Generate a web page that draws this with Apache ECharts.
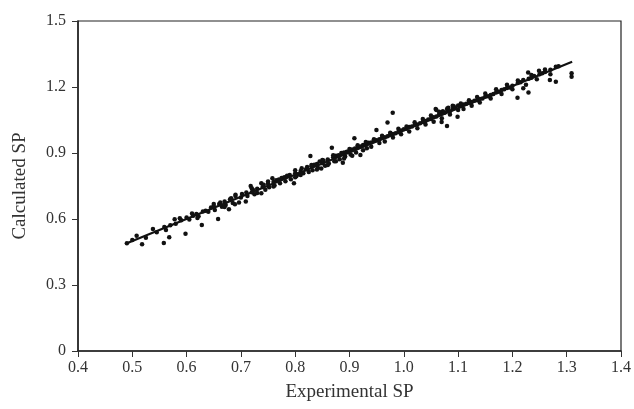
<!DOCTYPE html>
<html><head><meta charset="utf-8">
<script src="https://cdn.jsdelivr.net/npm/echarts@6/dist/echarts.min.js"></script>
<style>html,body{margin:0;padding:0;background:#fff}#c{width:634px;height:409px}</style>
</head><body><div id="c"></div>
<script>
var xTicks = [0.4,0.5,0.6,0.7,0.8,0.9,1.0,1.1,1.2,1.3,1.4];
var yTicks = [0,0.3,0.6,0.9,1.2,1.5];
var expX = [0.49,0.50,0.508,0.518,0.525,0.538,0.545,0.558,0.559,0.562,0.568,0.57,0.578,0.58,0.5875,0.59,0.598,0.60,0.605,0.612,0.618,0.622,0.628,0.63,0.635,0.64,0.645,0.65,0.652,0.658,0.66,0.662,0.665,0.67,0.672,0.678,0.68,0.682,0.685,0.689,0.69,0.6965,0.70,0.702,0.709,0.71,0.712,0.718,0.72,0.722,0.725,0.73,0.7376,0.7376,0.74,0.742,0.745,0.75,0.752,0.758,0.76,0.762,0.765,0.77,0.772,0.775,0.78,0.782,0.785,0.79,0.792,0.7977,0.80,0.80,0.802,0.805,0.81,0.812,0.815,0.82,0.822,0.825,0.828,0.83,0.832,0.835,0.84,0.842,0.845,0.848,0.85,0.852,0.855,0.86,0.862,0.8675,0.87,0.872,0.875,0.88,0.882,0.8877,0.89,0.892,0.895,0.90,0.902,0.905,0.909,0.91,0.912,0.915,0.92,0.92,0.925,0.93,0.932,0.935,0.94,0.945,0.9496,0.95,0.955,0.96,0.965,0.97,0.97,0.975,0.9796,0.98,0.985,0.99,0.995,1.00,1.005,1.01,1.015,1.02,1.025,1.03,1.035,1.04,1.045,1.05,1.055,1.0587,1.06,1.06,1.065,1.0697,1.07,1.072,1.075,1.0796,1.08,1.082,1.085,1.09,1.092,1.095,1.099,1.10,1.105,1.11,1.115,1.12,1.125,1.13,1.135,1.14,1.145,1.15,1.155,1.16,1.165,1.17,1.175,1.18,1.185,1.19,1.195,1.20,1.2094,1.21,1.215,1.22,1.22,1.2296,1.229,1.23,1.235,1.24,1.249,1.25,1.255,1.26,1.269,1.27,1.28,1.28,1.285,1.309,1.309,
  0.80,0.81,0.83,0.84,0.85,0.86,0.87,0.875,0.885,0.89,0.90,0.905,0.915,0.925,0.93,0.94,0.945,0.955,0.96,0.965,0.975,0.98,0.99,0.995,1.005,1.01,1.02,1.025,1.035,1.04,1.05,1.055,1.065,1.07,1.08,1.085,1.09,1.10,1.105,1.11,1.12,1.125,1.135,1.14,1.15,1.16,1.17,1.18,1.19,1.20,1.21,1.225,1.235,1.245,1.26,1.27,0.72,0.73,0.75,0.76,0.65,0.67,0.69,0.61,0.62];
var calcY = [0.49,0.505,0.524,0.485,0.515,0.555,0.54,0.491,0.564,0.55,0.517,0.572,0.599,0.578,0.603,0.594,0.533,0.607,0.598,0.615,0.623,0.612,0.573,0.634,0.638,0.633,0.652,0.658,0.641,0.600,0.668,0.675,0.656,0.679,0.664,0.644,0.69,0.694,0.673,0.667,0.705,0.675,0.698,0.714,0.679,0.72,0.704,0.75,0.722,0.733,0.713,0.738,0.762,0.717,0.745,0.756,0.733,0.76,0.744,0.785,0.768,0.752,0.776,0.779,0.762,0.786,0.79,0.772,0.797,0.80,0.781,0.762,0.808,0.822,0.794,0.803,0.818,0.831,0.808,0.826,0.836,0.814,0.886,0.84,0.822,0.847,0.85,0.832,0.861,0.83,0.853,0.866,0.842,0.87,0.852,0.924,0.881,0.862,0.888,0.89,0.872,0.856,0.902,0.884,0.906,0.91,0.893,0.916,0.967,0.92,0.902,0.926,0.891,0.93,0.936,0.94,0.922,0.947,0.948,0.954,1.0045,0.958,0.962,0.968,0.972,1.039,0.976,0.984,1.083,0.986,0.99,0.996,1.002,1.008,1.01,1.018,1.02,1.027,1.03,1.035,1.041,1.045,1.052,1.054,1.062,1.10,1.095,1.066,1.075,1.041,1.08,1.09,1.083,1.023,1.095,1.106,1.09,1.10,1.112,1.104,1.065,1.116,1.114,1.12,1.124,1.128,1.132,1.138,1.14,1.146,1.148,1.156,1.158,1.164,1.168,1.175,1.178,1.186,1.19,1.196,1.198,1.206,1.151,1.218,1.222,1.194,1.232,1.175,1.266,1.238,1.242,1.25,1.274,1.258,1.262,1.268,1.232,1.278,1.224,1.292,1.294,1.262,1.247,
  0.79,0.80,0.845,0.825,0.868,0.845,0.89,0.862,0.90,0.875,0.918,0.888,0.935,0.912,0.95,0.928,0.962,0.945,0.978,0.952,0.992,0.97,1.01,0.985,1.02,0.998,1.04,1.012,1.055,1.03,1.07,1.042,1.088,1.058,1.102,1.075,1.115,1.095,1.125,1.10,1.14,1.115,1.155,1.13,1.17,1.148,1.19,1.168,1.21,1.19,1.23,1.21,1.255,1.235,1.28,1.258,0.74,0.718,0.77,0.748,0.668,0.655,0.71,0.625,0.605];
var lineX = [0.49,1.31];
var lineY = [0.49,1.315];

var pts = expX.map(function(x,i){return [x,calcY[i]];});
var linePts = lineX.map(function(x,i){return [x,lineY[i]];});
var chart = echarts.init(document.getElementById('c'));
var serif = '"Liberation Serif","DejaVu Serif",serif';
chart.setOption({
  animation:false,
  backgroundColor:'#fff',
  grid:{left:78,right:12,top:21,bottom:58,show:true,borderColor:'#222',borderWidth:1.2,backgroundColor:'transparent'},
  xAxis:{type:'value',min:xTicks[0],max:xTicks[xTicks.length-1],interval:0.1,
    name:'Experimental SP',nameLocation:'middle',nameGap:32,
    nameTextStyle:{fontFamily:serif,fontSize:19,color:'#333'},
    axisLine:{lineStyle:{color:'#222',width:1.5}},
    axisTick:{show:true,inside:false,length:6,lineStyle:{color:'#333',width:1}},
    axisLabel:{fontFamily:serif,fontSize:16,color:'#333',margin:9,formatter:function(v){return v.toFixed(1);}},
    splitLine:{show:false}},
  yAxis:{type:'value',min:yTicks[0],max:yTicks[yTicks.length-1],interval:0.3,
    name:'Calculated SP',nameLocation:'middle',nameGap:48,
    nameTextStyle:{fontFamily:serif,fontSize:19,color:'#333'},
    axisLine:{show:true,lineStyle:{color:'#222',width:1.5}},
    axisTick:{show:true,inside:false,length:6,lineStyle:{color:'#333',width:1}},
    axisLabel:{fontFamily:serif,fontSize:16,color:'#333',margin:12,formatter:function(v){return v===0?'0':v.toFixed(1);}},
    splitLine:{show:false}},
  series:[
    {type:'scatter',data:pts,symbol:'circle',symbolSize:4.5,itemStyle:{color:'#111',opacity:1}},
    {type:'line',data:linePts,symbol:'none',lineStyle:{color:'#111',width:2.2}}
  ]
});
</script></body></html>
